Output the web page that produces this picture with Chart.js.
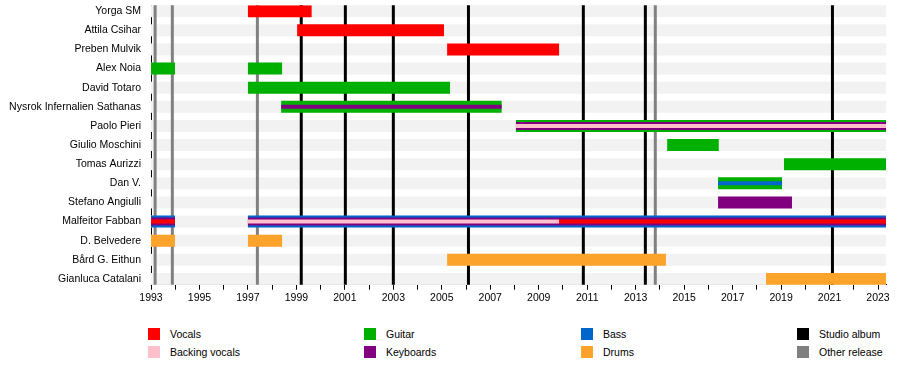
<!DOCTYPE html>
<html><head><meta charset="utf-8">
<script src="https://cdn.jsdelivr.net/npm/chart.js@4/dist/chart.umd.min.js"></script>
<style>
html,body{margin:0;padding:0;background:#fff;}
#wrap{position:relative;width:900px;height:365px;overflow:hidden;}
#c{position:absolute;left:0;top:0;}
.sw{position:absolute;width:12px;height:12px;}
.lt{position:absolute;font:10.5px "Liberation Sans",Arial,sans-serif;color:#000;line-height:14px;white-space:nowrap;}
</style>
</head><body>
<div id="wrap"><canvas id="c" width="900" height="310"></canvas><div id="legend"></div></div>
<script>
// ---- data ----
const members = ["Yorga SM","Attila Csihar","Preben Mulvik","Alex Noia","David Totaro",
  "Nysrok Infernalien Sathanas","Paolo Pieri","Giulio Moschini","Tomas Aurizzi","Dan V.",
  "Stefano Angiulli","Malfeitor Fabban","D. Belvedere","Bård G. Eithun","Gianluca Catalani"];
const axisStart = 1993, axisEnd = 2023.33;
const tickYears = [1993,1995,1997,1999,2001,2003,2005,2007,2009,2011,2013,2015,2017,2019,2021,2023];
// periods: [member, start, end]
const vocals = [["Yorga SM",1997.0,1999.63],["Attila Csihar",1999.03,2005.09],["Preben Mulvik",2005.22,2009.84],
  ["Malfeitor Fabban",1993.0,1993.99],["Malfeitor Fabban",2009.84,2023.33]];
const backingVocals = [["Malfeitor Fabban",1997.0,2009.84],["Paolo Pieri",2008.06,2023.33]];
const guitar = [["Alex Noia",1993.0,1993.99],["Alex Noia",1997.0,1998.41],["David Totaro",1997.0,2005.34],
  ["Nysrok Infernalien Sathanas",1998.37,2007.47],["Paolo Pieri",2008.06,2023.33],["Giulio Moschini",2014.3,2016.43],
  ["Tomas Aurizzi",2019.12,2023.33],["Dan V.",2016.4,2019.04]];
const bass = [["Dan V.",2016.4,2019.04],["Malfeitor Fabban",1993.0,1993.99],["Malfeitor Fabban",1997.0,2023.33]];
const keyboards = [["Nysrok Infernalien Sathanas",1998.37,2007.47],["Paolo Pieri",2008.06,2023.33],
  ["Stefano Angiulli",2016.4,2019.45],["Malfeitor Fabban",1993.0,1993.99],["Malfeitor Fabban",1997.0,2023.33]];
const drums = [["D. Belvedere",1993.0,1993.99],["D. Belvedere",1997.0,1998.41],["Bård G. Eithun",2005.22,2014.25],
  ["Gianluca Catalani",2018.38,2023.33]];
const studioAlbums = [1999.2,2001.02,2003.0,2006.1,2010.84,2013.4,2021.12];
const otherReleases = [1993.17,1993.88,1997.39,2013.81];
// members with several roles: which roles are main (outer), secondary, and innermost
const memberLayers = {
  "Nysrok Infernalien Sathanas":{"Guitar":0,"Keyboards":2},
  "Paolo Pieri":{"Guitar":0,"Keyboards":1,"Backing vocals":2},
  "Dan V.":{"Guitar":0,"Bass":2},
  "Malfeitor Fabban":{"Bass":0,"Keyboards":1,"Vocals":2,"Backing vocals":2}
};

// ---- styles ----
const roles = [
  {name:"Vocals", data:vocals, color:"#ff0000"},
  {name:"Backing vocals", data:backingVocals, color:"#ffc0cb"},
  {name:"Guitar", data:guitar, color:"#00b000"},
  {name:"Bass", data:bass, color:"#0066cc"},
  {name:"Keyboards", data:keyboards, color:"#800080"},
  {name:"Drums", data:drums, color:"#fba32a"}
];
const FONT = {family:'"Liberation Sans",Arial,sans-serif', size:10.5};
const YFONT = {family:'"Liberation Sans",Arial,sans-serif', size:10.5, lineHeight:1};

function rankOf(member, role){
  const r = memberLayers[member];
  return (r && r[role] !== undefined) ? r[role] : 0;
}
const thick = [12,8,4];
const datasets = [];
roles.forEach(role=>{
  [0,1,2].forEach(rank=>{
    const pts = role.data.filter(p=>rankOf(p[0],role.name)===rank)
      .map(p=>({x:[p[1],p[2]], y:members.indexOf(p[0])}));
    if(pts.length) datasets.push({label:role.name, data:pts, backgroundColor:role.color,
      barThickness:thick[rank], grouped:false, order:3-rank, borderWidth:0, inflateAmount:0});
  });
});

const bgPlugin = {
  id:'timelineBg',
  beforeDatasetsDraw(chart){
    const {ctx, chartArea, scales:{x,y}} = chart;
    ctx.save();
    ctx.fillStyle = '#f2f2f2';
    const x0 = x.getPixelForValue(axisStart), x1 = x.getPixelForValue(axisEnd);
    members.forEach((m,i)=>{ const yc = y.getPixelForValue(i); ctx.fillRect(x0, yc-6, x1-x0, 12); });
    const draw = (arr,color)=>{
      ctx.strokeStyle = color; ctx.lineWidth = 3;
      arr.forEach(v=>{ const px = x.getPixelForValue(v); ctx.beginPath(); ctx.moveTo(px, chartArea.top); ctx.lineTo(px, chartArea.bottom); ctx.stroke(); });
    };
    draw(otherReleases,'#808080');
    draw(studioAlbums,'#000000');
    ctx.restore();
  }
};

new Chart(document.getElementById('c'), {
  type:'bar',
  data:{datasets},
  plugins:[bgPlugin],
  options:{
    indexAxis:'y', responsive:false, animation:false,
    layout:{autoPadding:false, padding:{top:5,right:14,left:0,bottom:0}},
    plugins:{legend:{display:false}, tooltip:{enabled:false}},
    scales:{
      x:{type:'linear', min:axisStart, max:axisEnd, offset:false,
        afterFit: ax=>{ ax.height = 25.3; },
        border:{color:'#000', width:1},
        grid:{drawOnChartArea:false, color:'#000', tickLength:5, offset:false},
        ticks:{stepSize:1, includeBounds:false, autoSkip:false, maxRotation:0, minRotation:0, color:'#000', font:FONT, padding:2,
          callback:v=> tickYears.includes(v) ? String(v) : ''}},
      y:{type:'linear', reverse:true, min:-0.31, max:14.3, offset:false,
        afterBuildTicks: ax=>{ ax.ticks = members.map((m,i)=>({value:i})); },
        afterFit: ax=>{ ax.width = 151; },
        border:{color:'#000', width:1},
        grid:{display:true, drawOnChartArea:false, drawTicks:true, tickLength:10, color:'rgba(0,0,0,0)', offset:false},
        ticks:{autoSkip:false, color:'#000', font:YFONT, padding:0, callback:v=>members[v]}}
    }
  }
});

// ---- legend ----
const legendItems = [
  {label:"Vocals", color:"#ff0000", col:0, row:0},
  {label:"Backing vocals", color:"#ffc0cb", col:0, row:1},
  {label:"Guitar", color:"#00b000", col:1, row:0},
  {label:"Keyboards", color:"#800080", col:1, row:1},
  {label:"Bass", color:"#0066cc", col:2, row:0},
  {label:"Drums", color:"#fba32a", col:2, row:1},
  {label:"Studio album", color:"#000000", col:3, row:0},
  {label:"Other release", color:"#808080", col:3, row:1}
];
const colX = [148,364,581,797], rowY = [328,346];
const leg = document.getElementById('legend');
legendItems.forEach(it=>{
  const s = document.createElement('div'); s.className='sw';
  s.style.left = colX[it.col]+'px'; s.style.top = rowY[it.row]+'px'; s.style.background = it.color;
  const t = document.createElement('div'); t.className='lt'; t.textContent = it.label;
  t.style.left = (colX[it.col]+22)+'px'; t.style.top = (rowY[it.row]-1)+'px';
  leg.appendChild(s); leg.appendChild(t);
});
</script>
</body></html>
